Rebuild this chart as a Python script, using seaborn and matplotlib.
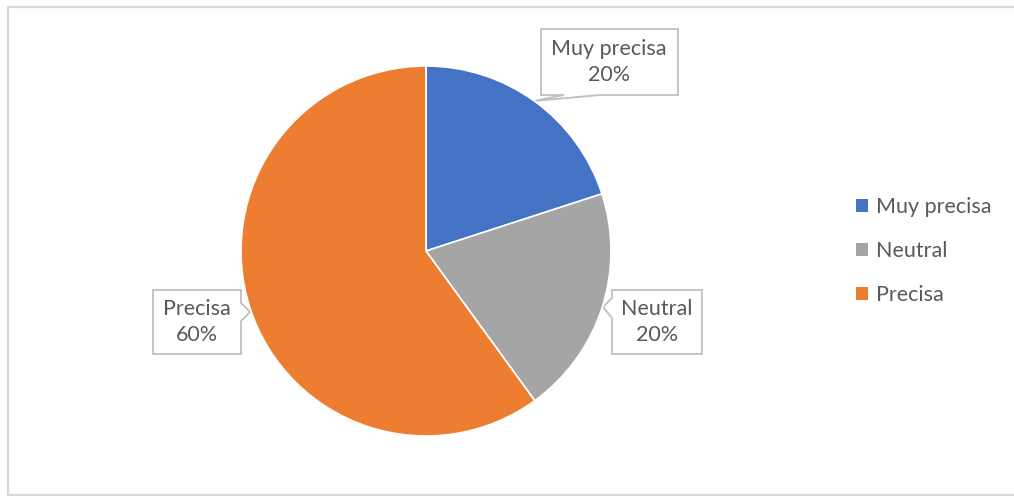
import matplotlib
matplotlib.use("Agg")
import matplotlib.pyplot as plt
from matplotlib.patches import Polygon, Patch
from matplotlib.lines import Line2D
import seaborn as sns

# Survey answers and their shares
categories = ["Muy precisa", "Neutral", "Precisa"]
shares = [20, 20, 60]
palette = ["#4472C4", "#A5A5A5", "#ED7D31"]

sns.set_theme(style="white")
plt.rcParams["font.family"] = ["Lato", "DejaVu Sans"]
TEXT = "#595959"
FRAME = "#D9D9D9"
FS = 15.5

W, H = 1014, 496
fig = plt.figure(figsize=(W / 100, H / 100), dpi=100)

# Overlay in pixel coordinates for frame and callouts
over = fig.add_axes([0, 0, 1, 1])
over.set_xlim(0, W)
over.set_ylim(H, 0)
over.axis("off")

# Chart frame (top, left, bottom)
over.add_line(Line2D([7.5, 1014], [6.5, 6.5], color=FRAME, lw=1.6))
over.add_line(Line2D([7.5, 7.5], [6.5, 495], color=FRAME, lw=1.6))
over.add_line(Line2D([7.5, 1014], [495, 495], color=FRAME, lw=1.6))

# Pie
cx, cy, r = 426, 251, 185
ax = fig.add_axes([(cx - r) / W, (H - cy - r) / H, 2 * r / W, 2 * r / H])
wedges, _ = ax.pie(shares, colors=palette, startangle=90, counterclock=False,
                   wedgeprops=dict(edgecolor="white", linewidth=1.2))
ax.set_xlim(-1, 1)
ax.set_ylim(-1, 1)
ax.set_aspect("equal")
ax.axis("off")

# Callout boxes with pointers
box_kw = dict(closed=True, facecolor="white", edgecolor="#BFBFBF", lw=1.3, zorder=5)
over.add_patch(Polygon([(541, 29), (678, 29), (678, 95), (600, 95), (534, 101),
                        (564, 95), (541, 95)], **box_kw))
over.add_patch(Polygon([(153, 290), (241, 290), (241, 303), (250, 312), (241, 321),
                        (241, 354), (153, 354)], **box_kw))
over.add_patch(Polygon([(612, 290), (702, 290), (702, 354), (612, 354), (612, 318),
                        (603, 307), (612, 298)], **box_kw))

label_pos = {"Muy precisa": (609, 62), "Neutral": (657, 322), "Precisa": (197, 322)}
for name, val in zip(categories, shares):
    x, y = label_pos[name]
    over.text(x, y, f"{name}\n{val}%", ha="center", va="center", fontsize=FS,
              color=TEXT, linespacing=1.4, zorder=6)

# Legend
handles = [Patch(facecolor=c, edgecolor="none") for c in palette]
fig.legend(handles, categories, loc="center left",
           bbox_to_anchor=(856 / W, 1 - 251 / H), frameon=False, fontsize=FS,
           labelcolor=TEXT, handlelength=0.56, handleheight=0.56,
           handletextpad=0.37, labelspacing=1.13, borderpad=0, borderaxespad=0)

fig.savefig("out.png", dpi=100, facecolor="white")
